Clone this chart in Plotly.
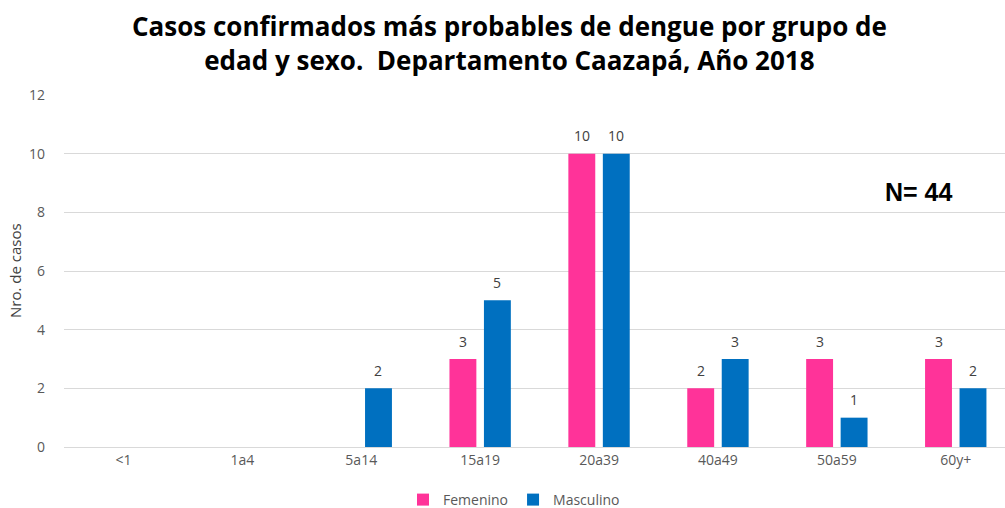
import plotly.graph_objects as go

categories = ["<1", "1a4", "5a14", "15a19", "20a39", "40a49", "50a59", "60y+"]
femenino = [0, 0, 0, 3, 10, 2, 3, 3]
masculino = [0, 0, 2, 5, 10, 3, 1, 2]
y_ticks = [0, 2, 4, 6, 8, 10, 12]
title_lines = ["Casos confirmados más probables de dengue por grupo de",
               "edad y sexo.  Departamento Caazapá, Año 2018"]

W, H = 1005, 508
L, R, T, B = 64, 0, 95, 61
PW, PH = W - L - R, H - T - B

def nz(vals):
    return [v if v else None for v in vals]

fig = go.Figure()
fig.add_trace(go.Bar(
    x=categories, y=nz(femenino), name="Femenino",
    marker=dict(color="#FF3399", line=dict(width=0)),
))
fig.add_trace(go.Bar(
    x=categories, y=nz(masculino), name="Masculino",
    marker=dict(color="#0070C0", line=dict(width=0)),
))

annotations = [
    dict(text="<b>" + "<br>".join(title_lines) + "</b>", x=(509 - L) / PW, y=1 + (T - 43) / PH,
         xref="paper", yref="paper", xanchor="center", yanchor="middle", showarrow=False,
         font=dict(size=26, color="black", family="Open Sans, sans-serif")),
    dict(text="Nro. de casos", x=(15 - L) / PW, y=0.5, textangle=-90,
         xref="paper", yref="paper", xanchor="center", yanchor="middle", showarrow=False,
         font=dict(size=15, color="#404040")),
    dict(text="<b>N= 44</b>", x=(919 - L) / PW, y=1 - (192 - T) / PH,
         xref="paper", yref="paper", xanchor="center", yanchor="middle", showarrow=False,
         font=dict(size=25, color="black", family="Liberation Sans, Arial")),
]

# value labels above bars (zero values are not labelled)
for vals, shift in ((femenino, -17), (masculino, 17)):
    for cat, v in zip(categories, vals):
        if v:
            annotations.append(dict(
                text=str(v), x=cat, y=v, xref="x", yref="y", xshift=shift, yshift=18,
                xanchor="center", yanchor="middle", showarrow=False,
                font=dict(size=14, color="#404040")))

fig.update_layout(
    width=W, height=H,
    margin=dict(l=L, r=R, t=T, b=B, autoexpand=False),
    paper_bgcolor="white", plot_bgcolor="white",
    font=dict(family="Open Sans, Noto Sans, sans-serif", color="#595959"),
    barmode="group", bargap=0.42, bargroupgap=0.22,
    xaxis=dict(
        type="category", range=[-0.5, -0.5 + PW / 118.9], automargin=False,
        showline=True, linecolor="#D9D9D9", linewidth=1,
        ticks="", tickfont=dict(size=14, color="#595959"),
    ),
    yaxis=dict(
        range=[0, 12], tickvals=y_ticks, showgrid=True, automargin=False,
        gridcolor="#D9D9D9", gridwidth=1, zeroline=False,
        ticks="", tickfont=dict(size=14, color="#595959"), ticklabelstandoff=18,
    ),
    legend=dict(
        orientation="h", x=(514 - L) / PW, xanchor="center",
        yref="container", y=(H - 500) / H, yanchor="middle",
        font=dict(size=14, color="#595959"), itemwidth=30,
    ),
    annotations=annotations,
)
fig.write_html("out.html", config={"displayModeBar": False},
               post_script="document.body.style.margin='0';")
